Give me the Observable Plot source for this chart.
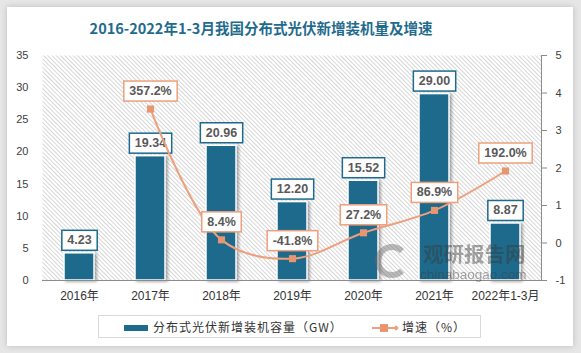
<!DOCTYPE html>
<html>
<head>
<meta charset="utf-8">
<script src="https://cdn.jsdelivr.net/npm/d3@7"></script>
<script src="https://cdn.jsdelivr.net/npm/@observablehq/plot@0.6"></script>
<style>
  html, body { margin: 0; padding: 0; }
  body { width: 581px; height: 353px; overflow: hidden; background: #e6e6e6; font-family: "Liberation Sans", "Noto Sans CJK SC", sans-serif; }
  #wrap { position: relative; width: 581px; height: 353px; }
  #card { position: absolute; left: 7px; top: 7px; width: 566px; height: 339px; background: #fff; box-shadow: 0 0 6px rgba(0,0,0,0.18); }
  #title { position: absolute; left: 0; width: 522px; top: 18px; text-align: center; font: bold 14.5px "Noto Sans CJK SC", sans-serif; color: #1f6b8e; line-height: 20px; }
  #chart { position: absolute; left: 0; top: 0; }
  #legend { position: absolute; left: 98px; top: 315px; width: 383px; height: 23px; border: 1px solid #d9d9d9; box-sizing: border-box; background: #fff; }
  .lg { position: absolute; top: 3px; font: 12px "Noto Sans CJK SC", sans-serif; letter-spacing: 1px; color: #333; line-height: 16px; white-space: nowrap; }
  #wm { position: absolute; left: 373px; top: 241px; pointer-events: none; opacity: 0.45; color: #3a3a3a; }
  svg g[aria-label="bar"] rect { filter: drop-shadow(2px 1px 1.5px rgba(0,0,0,0.35)); }
</style>
</head>
<body>
<div id="wrap">
  <div id="card"></div>
  <div id="title">2016-2022年1-3月我国分布式光伏新增装机量及增速</div>
  <div id="chart"></div>
  <div id="wm">
    <div style="position:absolute;left:2px;top:3px;width:34px;height:34px;border-radius:50%;border:6px solid #6a6a6a;box-sizing:border-box;border-right-color:transparent;"></div>
    <div style="position:absolute;left:50px;top:1px;font:bold 20.5px 'Noto Sans CJK SC',sans-serif;white-space:nowrap;line-height:22px;height:22px;">观研报告网</div>
    <div style="position:absolute;left:47px;top:27px;font:13.5px 'Liberation Sans',sans-serif;white-space:nowrap;line-height:13px;height:13px;">chinabaogao.com</div>
  </div>
  <div id="legend">
    <div style="position:absolute;left:25px;top:9px;width:24px;height:6px;background:#1d6a8c;"></div>
    <div class="lg" style="left:54px;">分布式光伏新增装机容量（GW）</div>
    <div style="position:absolute;left:273px;top:11px;width:26px;height:2px;background:#ee9f7c;"></div>
    <div style="position:absolute;left:281px;top:8px;width:8px;height:8px;background:#e9956f;"></div>
    <div style="position:absolute;left:295px;top:10px;width:4px;height:4px;background:#ee9f7c;transform:rotate(45deg);"></div>
    <div class="lg" style="left:303px;">增速（%）</div>
  </div>
</div>
<script>
const years = ["2016年", "2017年", "2018年", "2019年", "2020年", "2021年", "2022年1-3月"];
const capacity = [4.23, 19.34, 20.96, 12.20, 15.52, 29.00, 8.87];
const growth = [null, 357.2, 8.4, -41.8, 27.2, 86.9, 192.0];
const leftTicks = [0, 5, 10, 15, 20, 25, 30, 35];
const rightTicks = [-1, 0, 1, 2, 3, 4, 5];

const BAR = "#1d6a8c", LINE = "#ee9f7c", MARK = "#e9956f";
// right axis (growth/100) maps onto left axis: -1 -> 0, 5 -> 35
const toLeft = r => (r + 1) * 35 / 6;
const fromLeft = v => Math.round(v * 6 / 35 - 1);

const bars = years.map((y, i) => ({year: y, value: capacity[i]}));
const line = years.map((y, i) => ({year: y, g: growth[i]})).filter(d => d.g != null).map(d => ({...d, yl: toLeft(d.g / 100)}));

const plot = Plot.plot({
  width: 581, height: 353,
  marginLeft: 42, marginRight: 40, marginTop: 55, marginBottom: 73,
  style: {background: "transparent", fontFamily: "'Liberation Sans','Noto Sans CJK SC',sans-serif", fontSize: "11px", color: "#404040"},
  x: {domain: years, paddingInner: 0.58, paddingOuter: 0.29, label: null},
  y: {domain: [0, 35], label: null},
  marks: [
    Plot.frame({fill: "url(#hatch)", stroke: null}),
    Plot.axisY({anchor: "left", ticks: leftTicks, tickSize: 0, tickPadding: 14, label: null, fontSize: 11}),
    Plot.axisY({anchor: "right", ticks: rightTicks.map(toLeft), tickFormat: fromLeft, tickSize: 5, tickPadding: 9, stroke: "#888", label: null, fontSize: 11}),
    Plot.axisX({tickSize: 0, tickPadding: 11, label: null, fontSize: 12, fill: "#333"}),
    Plot.barY(bars, {x: "year", y: "value", fill: BAR, stroke: "#fff", strokeWidth: 1.5}),
    Plot.ruleY([0], {stroke: "#8c8c8c", strokeWidth: 1.2}),
    Plot.frame({anchor: "right", stroke: "#8c8c8c"}),
    Plot.text(bars, {x: "year", y: "value", text: d => d.value.toFixed(2), dy: -13, fill: "#595959", fontWeight: "bold", fontSize: 12.5}),
    Plot.line(line, {x: "year", y: "yl", stroke: LINE, strokeWidth: 2, curve: "catmull-rom"}),
    Plot.dot(line, {x: "year", y: "yl", symbol: "square", r: 4, fill: MARK, stroke: null}),
    Plot.text(line, {x: "year", y: "yl", text: d => d.g.toFixed(1) + "%", dy: -18, fill: "#595959", fontWeight: "bold", fontSize: 12.5})
  ]
});

// hatch pattern
const ns = "http://www.w3.org/2000/svg";
const defs = document.createElementNS(ns, "defs");
defs.innerHTML = `<pattern id="hatch" width="3" height="3" patternUnits="userSpaceOnUse" patternTransform="rotate(-45)">
  <rect width="3" height="3" fill="#ffffff"/><line x1="0.5" y1="0" x2="0.5" y2="3" stroke="#d2d2d2" stroke-width="0.9"/></pattern>`;
plot.insertBefore(defs, plot.firstChild);
document.getElementById("chart").appendChild(plot);

// label boxes behind texts (first text mark = bar labels, second = line labels)
const textGroups = plot.querySelectorAll('g[aria-label="text"]');
function boxes(g, color) {
  if (!g) return;
  g.querySelectorAll("text").forEach(t => {
    const b = t.getBBox();
    const r = document.createElementNS(ns, "rect");
    r.setAttribute("x", b.x - 5.5);
    r.setAttribute("y", b.y + b.height / 2 - 10);
    r.setAttribute("width", b.width + 11);
    r.setAttribute("height", 20);
    r.setAttribute("fill", "#fff");
    r.setAttribute("stroke", color);
    r.setAttribute("stroke-width", 1.5);
    if (t.getAttribute("transform")) r.setAttribute("transform", t.getAttribute("transform"));
    t.parentNode.insertBefore(r, t);
  });
}
boxes(textGroups[0], BAR);
boxes(textGroups[1], LINE);
</script>
</body>
</html>
